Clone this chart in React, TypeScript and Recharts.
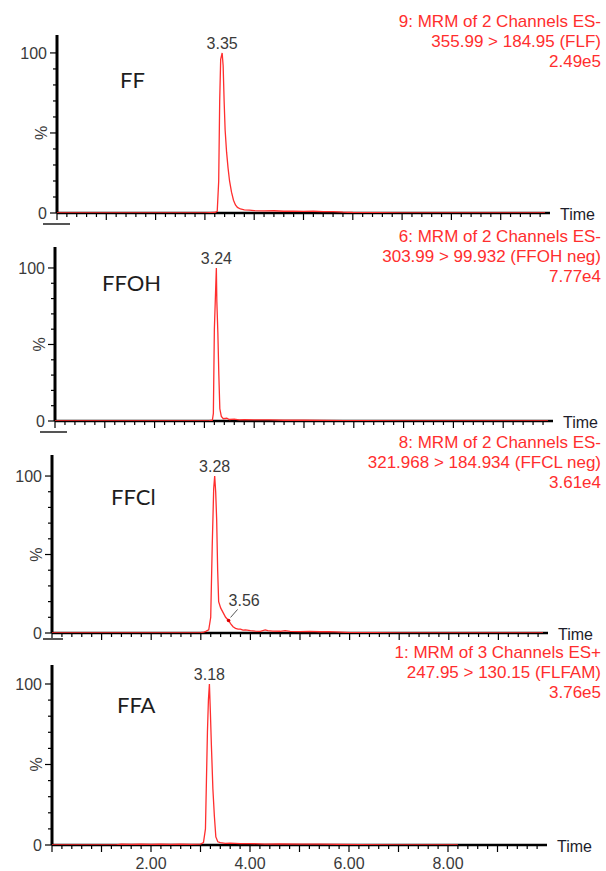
import { LineChart, Line, XAxis, YAxis, ReferenceDot } from 'recharts';

const FONT = '"Liberation Sans", Arial, sans-serif';
const RED = '#ff2e2e';
const INK = '#3a3a3a';

// retention time (min) and relative intensity (%) for each trace
const FF_TIME = [0, 1, 2, 3, 3.2, 3.25, 3.28, 3.3, 3.32, 3.35, 3.37, 3.39, 3.41, 3.44, 3.47, 3.5, 3.54, 3.58, 3.62, 3.66, 3.72, 3.8, 3.9, 4.0, 4.2, 4.4, 4.6, 4.8, 5.0, 5.2, 5.4, 5.6, 5.8, 6.0, 6.5, 7, 8, 9, 9.9];
const FF_INT = [0, 0, 0, 0.1, 0.3, 1, 20, 70, 96, 100, 92, 70, 52, 38, 28, 20, 13, 8, 5, 3.5, 2.5, 2, 1.8, 1.5, 1.3, 1.4, 1.1, 1.2, 1, 1.1, 0.8, 0.9, 0.5, 0.3, 0.2, 0.1, 0, 0, 0];

const FFOH_TIME = [0, 1, 2, 3, 3.1, 3.16, 3.18, 3.2, 3.22, 3.24, 3.25, 3.27, 3.29, 3.31, 3.34, 3.38, 3.45, 3.5, 3.6, 3.7, 3.8, 4.0, 4.3, 4.6, 5.0, 5.4, 5.8, 6.2, 7, 8, 9, 9.9];
const FFOH_INT = [0, 0, 0, 0, 0.2, 0.5, 5, 60, 80, 100, 78, 58, 30, 8, 3, 1.5, 1.8, 1, 1.2, 0.8, 0.9, 0.7, 0.8, 0.5, 0.6, 0.4, 0.3, 0.2, 0.1, 0, 0, 0];

const FFCL_TIME = [0, 1, 2, 2.9, 3.0, 3.06, 3.1, 3.16, 3.2, 3.23, 3.26, 3.28, 3.3, 3.32, 3.34, 3.36, 3.4, 3.45, 3.5, 3.56, 3.6, 3.65, 3.7, 3.75, 3.8, 3.85, 3.9, 4.0, 4.1, 4.2, 4.3, 4.35, 4.45, 4.6, 4.7, 4.8, 5.0, 5.2, 5.4, 5.6, 5.8, 6.0, 6.5, 7, 8, 9, 9.9];
const FFCL_INT = [0, 0, 0, 0.1, 0.3, 0.6, 1, 2, 10, 55, 92, 100, 90, 72, 40, 20, 16, 13, 10, 8, 6, 4, 3, 2.5, 2.5, 1.8, 2, 1.5, 1.2, 1, 2, 1.5, 1.2, 1.1, 1.5, 1, 0.9, 1, 0.8, 0.9, 0.6, 0.3, 0.2, 0.1, 0, 0, 0];

const FFA_TIME = [0, 1, 1.3, 1.4, 1.6, 1.8, 2, 2.2, 2.4, 2.6, 2.8, 3.0, 3.06, 3.1, 3.12, 3.14, 3.16, 3.18, 3.2, 3.22, 3.25, 3.28, 3.31, 3.35, 3.4, 3.5, 3.6, 3.8, 4, 4.3, 4.6, 5, 5.4, 5.8, 6.2, 7, 8, 8.2];
const FFA_INT = [0, 0, 0, 0.5, 0.3, 0.6, 0.4, 0.6, 0.3, 0.5, 0.4, 0.6, 1.5, 10, 40, 70, 90, 100, 82, 62, 35, 18, 5, 2, 1.5, 1, 1.2, 0.8, 0.9, 0.6, 0.7, 0.5, 0.6, 0.4, 0.2, 0, 0, 0];

const SAMPLE_NAMES = ['FF', 'FFOH', 'FFCl', 'FFA'];
const APEX_TIMES = [3.35, 3.24, 3.28, 3.18];
const HEADERS = [
  ['9: MRM of 2 Channels ES-', '355.99 > 184.95 (FLF)', '2.49e5'],
  ['6: MRM of 2 Channels ES-', '303.99 > 99.932 (FFOH neg)', '7.77e4'],
  ['8: MRM of 2 Channels ES-', '321.968 > 184.934 (FFCL neg)', '3.61e4'],
  ['1: MRM of 3 Channels ES+', '247.95 > 130.15 (FLFAM)', '3.76e5'],
];
const SHOULDER = { time: 3.56, value: 8, label: '3.56' };

const X_LABELS = [2, 4, 6, 8];
const Y_TICKS = [0, 10, 20, 30, 40, 50, 60, 70, 80, 90, 100];
const X_TICKS = Array.from({ length: 50 }, (_, i) => Math.round(i * 2) / 10);

const TRACES = [
  [FF_TIME, FF_INT],
  [FFOH_TIME, FFOH_INT],
  [FFCL_TIME, FFCL_INT],
  [FFA_TIME, FFA_INT],
];

// page layout of each panel (band on the page, plot box inside it)
const LAYOUT = [
  { top: 0, height: 230, left: 57, right: 550, axisTop: 35, base: 213, yMax: 111.2, name: [120, 80], head: 12, dash: [43, 70, 223] },
  { top: 230, height: 210, left: 55, right: 553, axisTop: 247, base: 421, yMax: 113.7, name: [102, 283], head: 227, dash: [40, 67, 431] },
  { top: 440, height: 210, left: 52, right: 548, axisTop: 455, base: 633, yMax: 113.4, name: [111, 497], head: 433, dash: [43, 63, 638] },
  { top: 650, height: 221, left: 52, right: 547, axisTop: 665, base: 845, yMax: 111.8, name: [117, 705], head: 643, dash: null },
];

function makeXTick(showLabels: boolean) {
  return (props: any) => {
    const { x, y, payload } = props;
    const v = payload.value;
    const major = Math.abs(v - Math.round(v)) < 1e-6;
    const labelled = showLabels && major && X_LABELS.includes(Math.round(v));
    return (
      <g>
        <line x1={x} x2={x} y1={y} y2={y + (major ? 7 : 4)} stroke="#000" strokeWidth={1.2} />
        {labelled && (
          <text x={x} y={y + 24} textAnchor="middle" fontSize={16} fontFamily={FONT} fill={INK}>
            {v.toFixed(2)}
          </text>
        )}
      </g>
    );
  };
}

const yTick = (props: any) => {
  const { x, y, payload } = props;
  const v = payload.value;
  const long = v === 0 || v === 50 || v === 100;
  return (
    <g>
      <line x1={x - (long ? 7 : 4)} x2={x} y1={y} y2={y} stroke="#000" strokeWidth={1.2} />
      {(v === 0 || v === 100) && (
        <text x={x - 10} y={y} dy="0.35em" textAnchor="end" fontSize={16} fontFamily={FONT} fill={INK}>
          {v}
        </text>
      )}
      {v === 50 && (
        <text transform={`translate(${x - 16},${y}) rotate(-90)`} dy="0.35em" textAnchor="middle" fontSize={16} fontFamily={FONT} fill={INK}>
          %
        </text>
      )}
    </g>
  );
};

const shoulderLabel = (props: any) => {
  const vb = props.viewBox || {};
  const cx = vb.x + (vb.width || 0) / 2;
  const cy = vb.y + (vb.height || 0) / 2;
  return (
    <g>
      <line x1={cx + 2} y1={cy - 3} x2={cx + 9} y2={cy - 11} stroke="#555" strokeWidth={1} />
      <text x={cx} y={cy - 14} fontSize={16} fontFamily={FONT} fill={INK}>
        {SHOULDER.label}
      </text>
    </g>
  );
};

function Panel({ index }: { index: number }) {
  const L = LAYOUT[index];
  const [times, values] = TRACES[index];
  const data = times.map((t, i) => ({ t, v: values[i] }));
  const apex = APEX_TIMES[index];
  const last = index === LAYOUT.length - 1;
  return (
    <div style={{ position: 'absolute', left: 0, top: L.top, width: 606, height: L.height }}>
      <LineChart
        width={606}
        height={L.height}
        data={data}
        margin={{ top: L.axisTop - L.top, bottom: L.top + L.height - L.base - 1, left: L.left - 1, right: 606 - L.right }}
      >
        <XAxis
          type="number"
          dataKey="t"
          domain={[0, 10]}
          ticks={X_TICKS}
          interval={0}
          height={1}
          tickSize={0}
          tickMargin={0}
          tickLine={false}
          tick={makeXTick(last)}
          axisLine={{ stroke: '#000', strokeWidth: 2.5 }}
          allowDataOverflow
        />
        <YAxis
          type="number"
          domain={[0, L.yMax]}
          ticks={Y_TICKS}
          interval={0}
          width={1}
          tickSize={0}
          tickMargin={0}
          tickLine={false}
          tick={yTick}
          axisLine={{ stroke: '#000', strokeWidth: 3 }}
          allowDataOverflow
        />
        <Line
          type="linear"
          dataKey="v"
          stroke={RED}
          strokeWidth={1.3}
          dot={false}
          isAnimationActive={false}
          zIndex={600}
        />
        <ReferenceDot
          x={apex}
          y={100}
          r={0}
          fill="none"
          stroke="none"
          label={{ value: apex.toFixed(2), position: 'top', offset: 4, fontSize: 16, fontFamily: FONT, fill: INK }}
        />
        {index === 2 && (
          <ReferenceDot
            x={SHOULDER.time}
            y={SHOULDER.value}
            r={1.8}
            fill="#d00"
            stroke="none"
            label={shoulderLabel}
          />
        )}
      </LineChart>
      <div
        style={{
          position: 'absolute', left: L.name[0], top: L.name[1] - L.top - 14, fontFamily: 'Lato, sans-serif',
          fontSize: 22, lineHeight: '28px', color: '#1e1e1e',
        }}
      >
        {SAMPLE_NAMES[index]}
      </div>
      <div
        style={{
          position: 'absolute', left: L.right + 10, top: L.base - L.top - 8, fontFamily: FONT,
          fontSize: 16, lineHeight: '20px', color: '#1d1d2b',
        }}
      >
        Time
      </div>
    </div>
  );
}

export default function App() {
  return (
    <div style={{ position: 'absolute', left: 0, top: 0, width: 606, height: 871, background: '#fff', overflow: 'hidden' }}>
      {LAYOUT.map((_, i) => <Panel key={i} index={i} />)}
      {LAYOUT.map((L, i) => (
        <div
          key={'h' + i}
          style={{
            position: 'absolute', right: 5, top: L.head, textAlign: 'right', fontFamily: FONT,
            fontSize: 17, lineHeight: '20px', color: RED, whiteSpace: 'nowrap',
          }}
        >
          {HEADERS[i].map(line => <div key={line}>{line}</div>)}
        </div>
      ))}
      {LAYOUT.map((L, i) => L.dash && (
        <div
          key={'d' + i}
          style={{ position: 'absolute', left: L.dash[0], top: L.dash[2], width: L.dash[1] - L.dash[0], height: 1.5, background: '#555' }}
        />
      ))}
    </div>
  );
}
